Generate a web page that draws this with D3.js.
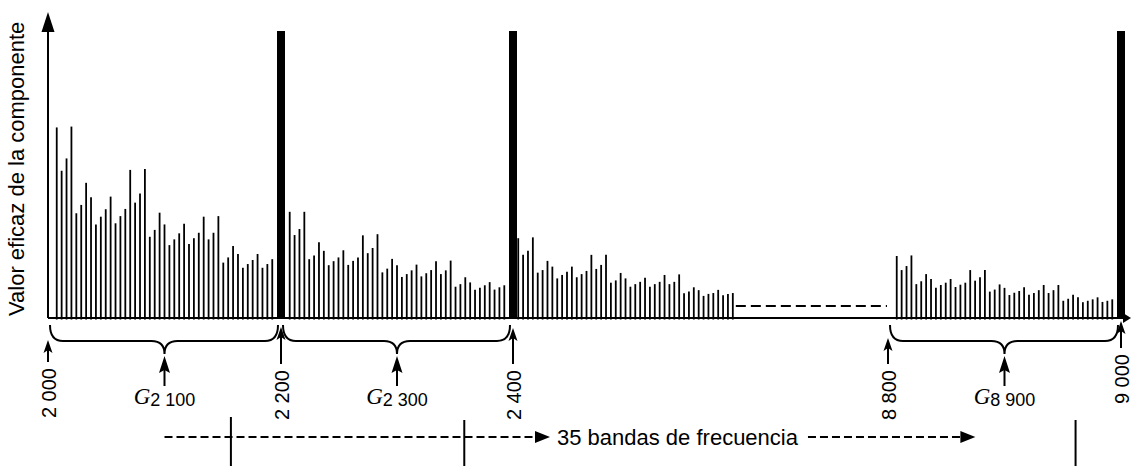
<!DOCTYPE html>
<html>
<head>
<meta charset="utf-8">
<script src="https://cdn.jsdelivr.net/npm/d3@7"></script>
<style>
  html, body { margin: 0; padding: 0; background: #fff; }
  svg { display: block; }
  text { font-family: "Liberation Sans", Arial, sans-serif; fill: #000; }
</style>
</head>
<body>
<div id="chart"></div>
<script>
// spectral lines, 45 per 200 Hz group (heights in % of the tone marker)
const groupStarts = [2000, 2200, 2400, 8800]
const groupLeads = [7.5, 7.5, 4.5, 7.5]   // Hz from group start to first line
const binSpan = 185                       // Hz from first to last line in a group

const amp2000 = [66.4, 51.3, 55.6, 66.7, 36.5, 39.4, 47.1, 42.1, 32.6, 35.3, 37.9, 42.3, 33.0, 35.5, 38.0,
  51.6, 40.2, 43.4, 51.9, 28.3, 30.7, 36.7, 32.6, 25.4, 27.4, 29.5, 32.8, 25.8, 27.8, 29.7,
  35.3, 27.4, 29.7, 35.5, 19.3, 21.1, 25.1, 22.3, 17.5, 18.8, 20.2, 22.3, 17.5, 18.8, 20.5]
const amp2200 = [37.0, 28.9, 31.0, 37.0, 20.5, 21.8, 26.4, 23.4, 18.4, 19.8, 21.1, 23.6, 18.5, 19.9, 21.1,
  28.8, 22.6, 24.4, 29.2, 15.9, 17.2, 20.6, 18.4, 14.3, 15.3, 16.6, 18.6, 14.5, 15.6, 16.7,
  19.8, 15.3, 16.6, 20.0, 10.9, 11.8, 14.2, 12.4, 9.8, 10.5, 11.4, 12.5, 9.9, 10.7, 11.4]
const amp2400 = [27.8, 22.0, 23.4, 28.1, 15.8, 16.7, 19.9, 17.9, 13.8, 15.0, 16.1, 17.9, 14.2, 15.3, 16.4,
  22.0, 17.1, 18.5, 22.0, 12.3, 13.1, 15.7, 13.8, 10.9, 11.8, 12.6, 14.0, 10.9, 11.8, 12.6,
  15.0, 11.8, 12.6, 15.2, 8.6, 9.2, 10.7, 9.7, 7.7, 8.4, 8.7, 9.8, 7.9, 8.4, 8.7]
const amp8800 = [21.6, 16.7, 18.1, 21.8, 11.8, 12.8, 15.3, 13.6, 10.5, 11.5, 12.3, 13.6, 10.8, 11.6, 12.3,
  16.7, 13.0, 14.2, 16.7, 9.2, 9.9, 11.7, 10.5, 8.0, 8.8, 9.4, 10.7, 8.1, 8.7, 9.7,
  11.5, 8.7, 9.7, 11.5, 6.0, 6.7, 8.1, 7.2, 5.5, 6.0, 6.5, 7.2, 5.6, 6.0, 6.5]
const groupAmps = [amp2000, amp2200, amp2400, amp8800]

// tone markers
const markerFreqs = [2200, 2400, 9000]
const markerAmp = 100

// axis annotations
const tickFreqs = [2000, 2200, 2400, 8800, 9000]
const tickLabels = ["2 000", "2 200", "2 400", "8 800", "9 000"]
const braceRanges = [[2000, 2200], [2200, 2400], [8800, 9000]]
const groupCenters = [2100, 2300, 8900]
const groupSubs = ["2 100", "2 300", "8 900"]
const bandTicks = [2157, 2358, 8961]
const bandArrowEnds = [2100, 8875]
const yTitle = "Valor eficaz de la componente"
const bandTitle = "35 bandas de frecuencia"

const width = 1131, height = 467
const baseY = 318

// broken frequency axis: 2 600 .. 8 800 is squeezed into the gap
const x = d3.scaleLinear()
  .domain([2000, 2200, 2400, 2600, 8800, 9000])
  .range([48, 281, 513, 745, 888, 1121])
const y = d3.scaleLinear().domain([0, 100]).range([baseY, 31])

const svg = d3.select("#chart").append("svg")
  .attr("width", width)
  .attr("height", height)

const lines = groupStarts.flatMap((g, gi) =>
  groupAmps[gi].map((a, i) => ({ f: g + groupLeads[gi] + i * binSpan / (groupAmps[gi].length - 1), a })))

// thin spectral lines
svg.append("g")
  .selectAll("line")
  .data(lines)
  .join("line")
  .attr("x1", d => x(d.f)).attr("x2", d => x(d.f))
  .attr("y1", d => y(d.a)).attr("y2", y(0) + 1.5)
  .attr("stroke", "#000")
  .attr("stroke-width", 1.8)

// thick tone markers
svg.append("g")
  .selectAll("rect")
  .data(markerFreqs)
  .join("rect")
  .attr("x", d => x(d) - 4)
  .attr("y", y(markerAmp))
  .attr("width", 8)
  .attr("height", y(0) - y(markerAmp) + 1)
  .attr("fill", "#000")

// axes
svg.append("line")
  .attr("x1", x(2000)).attr("x2", width - 4)
  .attr("y1", baseY).attr("y2", baseY)
  .attr("stroke", "#000").attr("stroke-width", 2)
svg.append("path")
  .attr("d", `M${width},${baseY} L${width - 8},${baseY - 5} L${width - 8},${baseY + 5} Z`)
  .attr("fill", "#000")
svg.append("line")
  .attr("x1", x(2000)).attr("x2", x(2000))
  .attr("y1", baseY).attr("y2", 28)
  .attr("stroke", "#000").attr("stroke-width", 2)
svg.append("path")
  .attr("d", `M${x(2000)},12 L${x(2000) + 6.5},32 L${x(2000) - 6.5},32 Z`)
  .attr("fill", "#000")

// dashed stand-in for the omitted groups
const lastBin = groupStarts[2] + groupLeads[2] + binSpan
svg.append("line")
  .attr("x1", x(lastBin) + 3).attr("x2", x(8800) - 1)
  .attr("y1", 306).attr("y2", 306)
  .attr("stroke", "#000").attr("stroke-width", 2)
  .attr("stroke-dasharray", "10,5")

svg.append("text")
  .attr("transform", `translate(24,${baseY - 2}) rotate(-90)`)
  .style("font-size", "22px")
  .text(yTitle)

// braces under each group
const brace = ([a, b], c) => {
  const xa = x(a) + 2, xb = x(b) - 3, xc = x(c)
  const y0 = 325, y1 = 341, y2 = 354, r = 13
  return `M${xa},${y0} Q${xa},${y1} ${xa + r},${y1} H${xc - r} Q${xc},${y1} ${xc},${y2}` +
    ` Q${xc},${y1} ${xc + r},${y1} H${xb - r} Q${xb},${y1} ${xb},${y0}`
}
svg.append("g")
  .selectAll("path")
  .data(braceRanges)
  .join("path")
  .attr("d", (d, i) => brace(d, groupCenters[i]))
  .attr("fill", "none")
  .attr("stroke", "#000")
  .attr("stroke-width", 2)

const upArrow = (cx, tip, hw, hh) =>
  `M${cx},${tip} L${cx + hw},${tip + hh} L${cx},${tip + hh - 3} L${cx - hw},${tip + hh} Z`

// frequency ticks: arrow + rotated label
const tickTips = [340, 327, 328, 338, 321]
const tickBottoms = [362, 364, 364, 364, 348]
const tickG = svg.append("g")
  .selectAll("g")
  .data(tickFreqs)
  .join("g")
tickG.append("line")
  .attr("x1", d => x(d)).attr("x2", d => x(d))
  .attr("y1", (d, i) => tickTips[i] + 6).attr("y2", (d, i) => tickBottoms[i])
  .attr("stroke", "#000").attr("stroke-width", 2)
tickG.append("path")
  .attr("d", (d, i) => upArrow(x(d), tickTips[i], 4.5, 13))
  .attr("fill", "#000")
tickG.append("text")
  .attr("transform", (d, i) => `translate(${x(d) + 7.5},${tickBottoms[i] + 6}) rotate(-90)`)
  .attr("text-anchor", "end")
  .style("font-size", "20px")
  .text((d, i) => tickLabels[i])

// group value labels G_f
const gG = svg.append("g")
  .selectAll("g")
  .data(groupCenters)
  .join("g")
gG.append("line")
  .attr("x1", d => x(d)).attr("x2", d => x(d))
  .attr("y1", 362).attr("y2", 386)
  .attr("stroke", "#000").attr("stroke-width", 2)
gG.append("path")
  .attr("d", d => upArrow(x(d), 356, 5.5, 17))
  .attr("fill", "#000")
const gLabel = gG.append("text")
  .attr("x", d => x(d))
  .attr("y", 404)
  .attr("text-anchor", "middle")
gLabel.append("tspan")
  .style("font-family", "'Liberation Serif', 'Times New Roman', serif")
  .style("font-style", "italic")
  .style("font-size", "23px")
  .text("G")
gLabel.append("tspan")
  .attr("dy", 2)
  .style("font-size", "18px")
  .text((d, i) => groupSubs[i])

// band count arrow
const bandY = 437
const bandText = svg.append("text")
  .attr("x", 557)
  .attr("y", bandY + 8)
  .style("font-size", "22px")
  .text(bandTitle)
const textEnd = 557 + bandText.node().getComputedTextLength()

const rightArrow = (tip, hw, hh) =>
  `M${tip},${bandY} L${tip - hh},${bandY - hw} L${tip - hh},${bandY + hw} Z`
const seg = [[x(bandArrowEnds[0]), 550], [textEnd + 10, x(bandArrowEnds[1])]]
svg.append("g")
  .selectAll("line")
  .data(seg)
  .join("line")
  .attr("x1", d => d[0]).attr("x2", d => d[1] - 12)
  .attr("y1", bandY).attr("y2", bandY)
  .attr("stroke", "#000").attr("stroke-width", 2)
  .attr("stroke-dasharray", "8,4")
svg.append("g")
  .selectAll("path")
  .data(seg)
  .join("path")
  .attr("d", d => rightArrow(d[1], 6, 15))
  .attr("fill", "#000")

svg.append("g")
  .selectAll("line")
  .data(bandTicks)
  .join("line")
  .attr("x1", d => x(d)).attr("x2", d => x(d))
  .attr("y1", (d, i) => i === 0 ? 417 : 420).attr("y2", 466)
  .attr("stroke", "#000").attr("stroke-width", 2)
</script>
</body>
</html>
